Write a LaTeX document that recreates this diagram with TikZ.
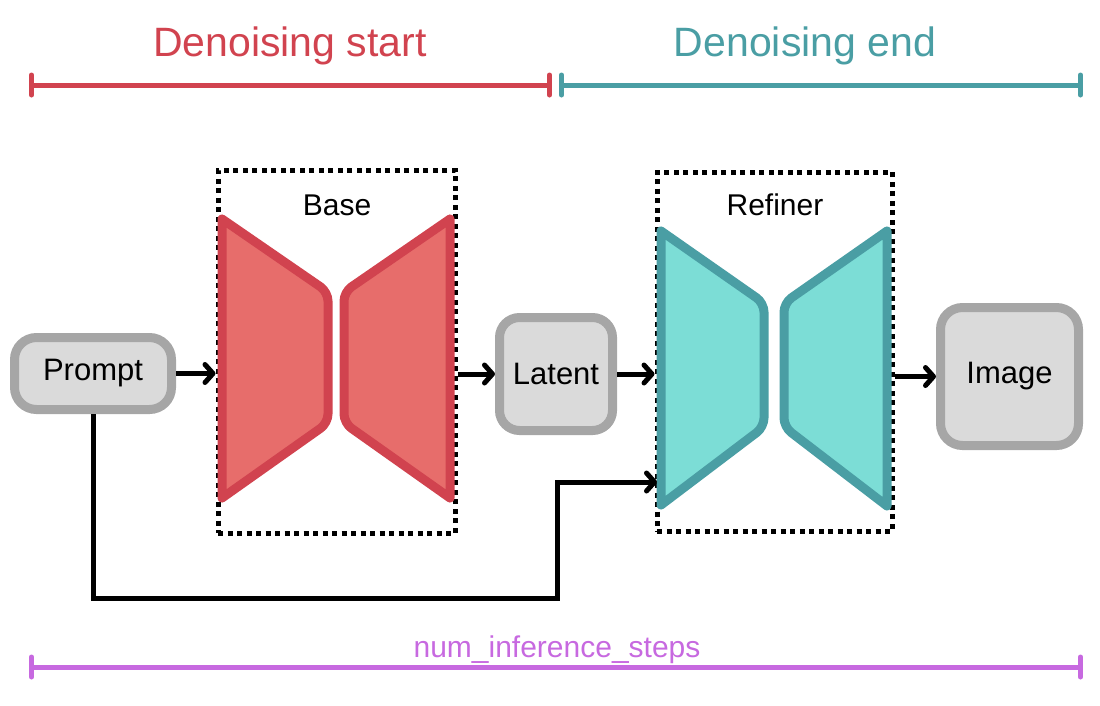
\documentclass[tikz,border=0pt]{standalone}
\usepackage{fontspec}
\setmainfont{Liberation Sans}
\usetikzlibrary{arrows.meta}
\definecolor{cred}{HTML}{D1434F}
\definecolor{credfill}{HTML}{E76D6B}
\definecolor{cteal}{HTML}{4A9EA4}
\definecolor{ctealfill}{HTML}{7CDDD6}
\definecolor{cpurple}{HTML}{C769E0}
\definecolor{cgrayfill}{HTML}{DADADA}
\definecolor{cgraydraw}{HTML}{A6A6A6}
\begin{document}
\begin{tikzpicture}[x=1pt,y=-1pt,
  graybox/.style={draw=cgraydraw,fill=cgrayfill,line width=9pt,rounded corners=22pt,inner sep=0pt,font=\fontsize{31}{36}\selectfont},
  dotbox/.style={draw=black,line width=5pt,dash pattern=on 5pt off 4.5pt,inner sep=0pt},
  flow/.style={line width=5pt,-{Straight Barb[length=8pt,width=18pt,round]}},
  span/.style={line width=5pt,line cap=round,{Bar[width=20pt,round]}-{Bar[width=20pt,round]}},
  netred/.style={draw=cred,fill=credfill,line width=9pt,line join=round},
  netteal/.style={draw=cteal,fill=ctealfill,line width=9pt,line join=round},
  lbl/.style={font=\fontsize{30}{36}\selectfont}
]
\useasboundingbox (0,0) rectangle (1100,705);

% spans
\coordinate (rs) at (29,85);
\coordinate (re) at (552,85);
\coordinate (ts) at (559,85);
\coordinate (te) at (1083,85);
\coordinate (ps) at (29,667);
\coordinate (pe) at (1083,667);
\draw[span,cred] (rs) -- (re);
\draw[span,cteal] (ts) -- (te);
\draw[span,cpurple] (ps) -- (pe);
\node[text=cred,font=\fontsize{41}{48}\selectfont] (tstart) at (290,46) {Denoising start};
\node[text=cteal,font=\fontsize{41}{48}\selectfont] (tend) at (805,46) {Denoising end};
\node[text=cpurple,font=\fontsize{30}{36}\selectfont] (tsteps) at (557,650) {num\_inference\_steps};

% dotted boxes
\node[dotbox,minimum width=237pt,minimum height=363pt] (base) at (336.5,351.5) {};
\node[dotbox,minimum width=235pt,minimum height=359pt] (refiner) at (774.5,351.5) {};
\node[lbl] (baselbl) at (337,205) {Base};
\node[lbl] (reflbl) at (775,205) {Refiner};

% base network
\draw[netred] (222,219) [rounded corners=9pt] -- (328,292) -- (328,423) [sharp corners] -- (222,498) -- cycle;
\draw[netred] (450,219) [rounded corners=9pt] -- (344,292) -- (344,423) [sharp corners] -- (450,498) -- cycle;
% refiner network
\draw[netteal] (661,231) [rounded corners=9pt] -- (764,303) -- (764,427) [sharp corners] -- (661,505) -- cycle;
\draw[netteal] (887,231) [rounded corners=9pt] -- (784,303) -- (784,427) [sharp corners] -- (887,506) -- cycle;

% boxes
\node[graybox,minimum width=157pt,minimum height=72pt] (prompt) at (93,373.5) {Prompt};
\node[graybox,rounded corners=20pt,minimum width=113pt,minimum height=113pt] (latent) at (556,374) {Latent};
\node[graybox,minimum width=138pt,minimum height=138pt] (image) at (1009.5,376.5) {Image};

% connectors
\draw[flow] (prompt.east) -- (base.west |- prompt.east);
\draw[flow] (base.east |- latent.west) -- (latent.west);
\draw[flow] (latent.east) -- (refiner.west |- latent.east);
\draw[flow] (refiner.east |- image.west) -- (image.west);
\coordinate (turn) at (557,598);
\coordinate (rin) at (657,482);
\draw[flow] (prompt.south) |- (turn) |- (rin);
\end{tikzpicture}
\end{document}
